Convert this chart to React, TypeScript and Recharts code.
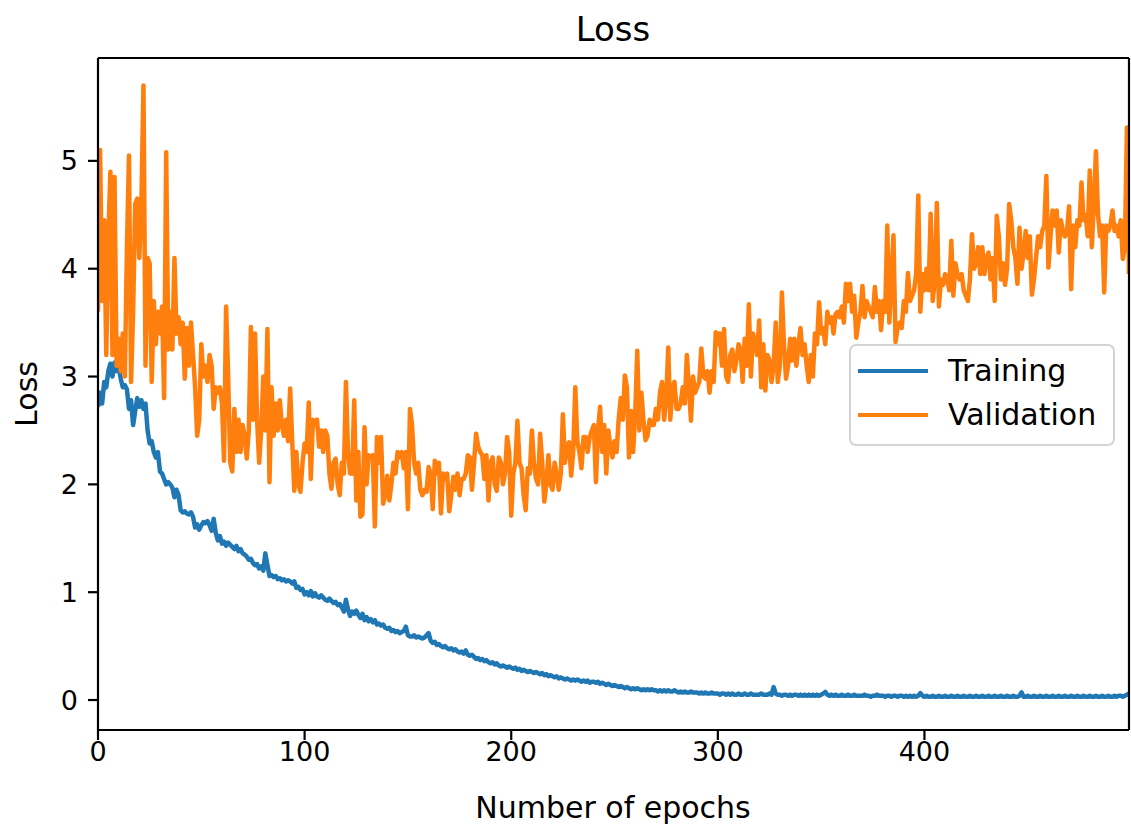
import React from 'react';
import { LineChart, Line, XAxis, YAxis, Legend, ReferenceLine } from 'recharts';

// Training loss per epoch (0..499)
const TRAINING: number[] = [
  2.72, 2.85, 2.75, 2.95, 2.9, 3.05, 3.12, 3.0, 3.13, 3.05,
  3.1, 2.98, 2.9, 2.92, 2.88, 2.7, 2.78, 2.55, 2.68, 2.8,
  2.72, 2.78, 2.7, 2.75, 2.5, 2.38, 2.4, 2.3, 2.25, 2.3,
  2.12, 2.1, 2.05, 2.0, 2.02, 2.0, 1.97, 1.88, 1.95, 1.9,
  1.76, 1.74, 1.75, 1.73, 1.72, 1.74, 1.7, 1.6, 1.63, 1.58,
  1.62, 1.65, 1.64, 1.66, 1.62, 1.57, 1.68, 1.55, 1.48, 1.52,
  1.45, 1.47, 1.43, 1.46, 1.44, 1.42, 1.4, 1.43, 1.38, 1.4,
  1.36, 1.35, 1.33, 1.3, 1.31, 1.27, 1.25, 1.26, 1.22, 1.24,
  1.2, 1.36, 1.25, 1.15, 1.16, 1.14, 1.15, 1.12, 1.13, 1.11,
  1.12, 1.1, 1.11, 1.1, 1.08, 1.1, 1.04, 1.05, 1.02, 1.03,
  0.98, 1.0, 0.97, 1.01, 0.96, 0.99, 0.96, 0.95, 0.97, 0.95,
  0.93, 0.92, 0.94, 0.92, 0.9, 0.91, 0.88, 0.89, 0.86, 0.82,
  0.93, 0.84, 0.78, 0.82, 0.8, 0.83, 0.79, 0.76, 0.8, 0.74,
  0.77, 0.73, 0.75, 0.72, 0.74, 0.7, 0.71, 0.69, 0.7, 0.67,
  0.66, 0.67, 0.64, 0.65, 0.63, 0.64, 0.62, 0.63, 0.64, 0.68,
  0.6, 0.59, 0.59, 0.6, 0.58, 0.59, 0.58, 0.57, 0.58, 0.6,
  0.62, 0.55, 0.53, 0.54, 0.51, 0.52, 0.5, 0.49, 0.5, 0.48,
  0.47, 0.48, 0.46, 0.47, 0.45, 0.44, 0.45, 0.43, 0.46, 0.42,
  0.41, 0.42, 0.4, 0.38, 0.39, 0.37, 0.38, 0.36, 0.37, 0.35,
  0.34, 0.35, 0.33, 0.34, 0.32, 0.31, 0.32, 0.31, 0.3, 0.31,
  0.3, 0.29, 0.3, 0.28, 0.29, 0.27, 0.28, 0.27, 0.26, 0.27,
  0.26, 0.25, 0.26, 0.25, 0.24, 0.25, 0.23, 0.24, 0.22, 0.23,
  0.22, 0.21, 0.22, 0.2, 0.21, 0.2, 0.19, 0.2, 0.19, 0.18,
  0.19, 0.18, 0.19, 0.18, 0.17, 0.18, 0.17, 0.18, 0.16, 0.17,
  0.17, 0.16, 0.17, 0.15, 0.16, 0.15, 0.14, 0.15, 0.14, 0.13,
  0.14, 0.13, 0.12, 0.13, 0.12, 0.11, 0.12, 0.11, 0.1, 0.11,
  0.1, 0.11, 0.1, 0.09, 0.1, 0.09, 0.1, 0.09, 0.1, 0.09,
  0.09, 0.08, 0.09, 0.08, 0.09, 0.08, 0.09, 0.08, 0.08, 0.09,
  0.08, 0.07, 0.08, 0.07, 0.08, 0.07, 0.07, 0.08, 0.07, 0.07,
  0.07, 0.06, 0.07, 0.06, 0.07, 0.06, 0.06, 0.07, 0.06, 0.06,
  0.06, 0.05, 0.06, 0.06, 0.05, 0.06, 0.05, 0.06, 0.05, 0.05,
  0.06, 0.05, 0.05, 0.06, 0.05, 0.05, 0.06, 0.05, 0.05, 0.05,
  0.05, 0.06, 0.05, 0.05, 0.05, 0.06, 0.05, 0.12, 0.06, 0.05,
  0.05, 0.04, 0.05, 0.05, 0.04, 0.05, 0.04, 0.05, 0.05, 0.04,
  0.05, 0.04, 0.05, 0.04, 0.05, 0.04, 0.05, 0.04, 0.05, 0.04,
  0.05, 0.06, 0.075, 0.05, 0.04, 0.05, 0.04, 0.05, 0.04, 0.04,
  0.05, 0.04, 0.04, 0.05, 0.04, 0.04, 0.05, 0.04, 0.04, 0.04,
  0.04, 0.05, 0.04, 0.04, 0.03, 0.04, 0.04, 0.05, 0.04, 0.04,
  0.04, 0.03, 0.04, 0.04, 0.03, 0.04, 0.04, 0.03, 0.04, 0.04,
  0.03, 0.04, 0.03, 0.04, 0.03, 0.04, 0.03, 0.04, 0.065, 0.04,
  0.03, 0.04, 0.03, 0.03, 0.04, 0.03, 0.03, 0.04, 0.03, 0.03,
  0.04, 0.03, 0.03, 0.04, 0.03, 0.03, 0.04, 0.03, 0.03, 0.04,
  0.03, 0.03, 0.04, 0.03, 0.03, 0.04, 0.03, 0.03, 0.04, 0.03,
  0.03, 0.04, 0.03, 0.03, 0.04, 0.03, 0.03, 0.04, 0.03, 0.03,
  0.04, 0.03, 0.03, 0.04, 0.03, 0.03, 0.04, 0.07, 0.03, 0.03,
  0.04, 0.03, 0.03, 0.04, 0.03, 0.03, 0.04, 0.03, 0.03, 0.04,
  0.03, 0.03, 0.04, 0.03, 0.03, 0.04, 0.03, 0.03, 0.04, 0.03,
  0.03, 0.04, 0.03, 0.03, 0.04, 0.03, 0.03, 0.04, 0.03, 0.03,
  0.04, 0.03, 0.03, 0.04, 0.03, 0.03, 0.04, 0.03, 0.03, 0.04,
  0.03, 0.03, 0.04, 0.03, 0.04, 0.04, 0.03, 0.04, 0.05, 0.06,
];

// Validation loss per epoch (0..499)
const VALIDATION: number[] = [
  3.6, 5.1, 3.7, 4.45, 3.2, 4.3, 4.9, 3.2, 4.85, 3.1,
  3.35, 3.05, 3.4, 3.0, 4.2, 5.05, 2.95, 3.6, 4.6, 4.65,
  4.1, 4.6, 5.7, 3.1, 4.1, 4.05, 2.95, 3.7, 3.3, 3.6,
  3.4, 3.65, 2.8, 5.08, 3.25, 3.6, 3.25, 4.1, 3.4, 3.55,
  3.3, 3.5, 2.98, 3.45, 3.1, 3.5, 3.2, 2.9, 2.45, 2.6,
  3.3, 3.0, 3.1, 2.95, 3.2, 3.1, 2.7, 2.9, 2.85, 2.9,
  2.75, 2.22, 3.65, 3.0, 2.2, 2.12, 2.7, 2.3, 2.6, 2.3,
  2.55, 2.45, 2.24, 2.5, 3.46, 2.6, 3.4, 2.6, 2.2, 2.5,
  3.0, 2.5, 3.44, 2.02, 2.9, 2.45, 2.75, 2.5, 2.78, 2.55,
  2.45, 2.6, 2.4, 2.89, 2.4, 1.94, 2.3, 2.0, 1.93, 2.2,
  2.38, 2.3, 2.76, 2.05, 2.6, 2.55, 2.6, 2.35, 2.5, 2.3,
  2.5, 2.45, 2.1, 1.96, 2.2, 2.24, 2.0, 1.9, 2.2, 2.1,
  2.95, 2.3, 2.1, 2.1, 2.78, 1.85, 2.3, 1.7, 1.72, 2.53,
  2.0, 2.27, 2.25, 2.27, 1.61, 2.44, 2.2, 2.44, 1.82, 1.9,
  2.08, 1.85, 2.0, 2.2, 2.1, 2.3, 2.25, 2.3, 2.15, 2.3,
  1.77, 2.7, 2.55, 2.2, 2.1, 2.2, 1.95, 1.9, 1.95, 1.93,
  2.16, 2.1, 1.77, 2.22, 2.1, 2.2, 1.73, 2.1, 2.05, 2.1,
  1.75, 1.9, 2.07, 1.95, 2.1, 1.9, 2.05, 2.05, 2.1, 2.27,
  2.25, 1.95, 2.2, 2.47, 2.35, 2.3, 2.27, 2.05, 2.27, 1.85,
  2.2, 2.25, 2.0, 1.94, 2.25, 2.2, 2.0, 2.1, 2.44, 2.3,
  1.71, 2.1, 2.2, 2.59, 2.2, 2.15, 1.9, 1.76, 2.15, 2.1,
  2.5, 2.2, 2.05, 2.0, 2.47, 2.2, 1.84, 2.0, 2.27, 2.0,
  1.95, 2.2, 2.1, 1.95, 2.1, 2.65, 2.2, 2.35, 2.39, 2.08,
  2.3, 2.9, 2.4, 2.3, 2.15, 2.44, 2.44, 2.3, 2.44, 2.5,
  2.55, 2.02, 2.5, 2.72, 2.3, 2.55, 2.1, 2.5, 2.35, 2.25,
  2.4, 2.3, 2.6, 2.8, 2.6, 3.01, 2.9, 2.25, 2.68, 2.3,
  2.65, 3.24, 2.5, 2.85, 2.6, 2.41, 2.45, 2.6, 2.55, 2.55,
  2.7, 2.6, 2.85, 2.95, 2.6, 2.8, 3.27, 2.6, 2.9, 2.95,
  2.7, 2.7, 2.75, 2.9, 2.75, 3.2, 2.9, 2.59, 3.0, 2.85,
  2.9, 2.95, 3.26, 3.0, 2.98, 3.05, 2.85, 3.05, 2.95, 3.41,
  3.3, 3.4, 3.1, 3.44, 3.0, 2.95, 3.2, 3.25, 3.05, 3.15,
  3.3, 3.25, 2.95, 3.35, 3.1, 3.67, 3.0, 3.4, 3.3, 3.2,
  3.52, 2.9, 3.3, 2.87, 3.2, 3.15, 2.95, 3.1, 3.5, 2.95,
  3.1, 3.78, 3.3, 2.98, 3.1, 3.35, 3.15, 3.35, 3.1, 3.3,
  3.45, 3.2, 3.3, 3.1, 2.95, 3.2, 3.0, 3.4, 3.3, 3.69,
  3.4, 3.45, 3.3, 3.6, 3.5, 3.55, 3.4, 3.58, 3.6, 3.55,
  3.65, 3.5, 3.86, 3.7, 3.86, 3.6, 3.75, 3.36, 3.5, 3.6,
  3.84, 3.55, 3.7, 3.65, 3.6, 3.55, 3.83, 3.6, 3.7, 3.43,
  3.7, 3.6, 4.4, 3.5, 3.9, 4.31, 3.32, 3.45, 3.5, 3.45,
  3.7, 3.6, 3.96, 3.7, 3.75, 3.8, 3.95, 4.68, 3.6, 3.95,
  3.8, 4.0, 3.8, 4.51, 3.7, 3.9, 4.61, 3.65, 3.9, 3.85,
  3.95, 3.9, 3.8, 4.26, 3.75, 4.05, 3.95, 3.9, 3.95, 3.8,
  3.75, 3.7, 3.9, 4.32, 4.0, 4.05, 4.2, 3.95, 4.2, 3.95,
  4.1, 4.15, 3.9, 4.1, 3.7, 4.49, 4.3, 3.9, 4.05, 3.85,
  4.0, 4.6, 4.45, 4.2, 4.1, 3.86, 4.38, 4.0, 4.15, 4.35,
  4.1, 4.3, 3.76, 3.9, 4.1, 4.3, 4.2, 4.35, 4.4, 4.86,
  4.01, 4.3, 4.54, 4.4, 4.54, 4.15, 4.45, 4.35, 4.3, 4.35,
  4.58, 3.81, 4.4, 4.2, 4.45, 4.4, 4.8, 4.45, 4.5, 4.3,
  4.91, 4.2, 4.6, 5.09, 4.5, 4.3, 4.4, 3.78, 4.4, 4.35,
  4.4, 4.54, 4.35, 4.4, 4.3, 4.45, 4.09, 4.2, 5.31, 3.95,
];

const EPOCHS: number[] = TRAINING.map((_, i) => i);
const X_TICKS = [0, 100, 200, 300, 400];
const Y_TICKS = [0, 1, 2, 3, 4, 5];
const X_DOMAIN: [number, number] = [0, 499];
const Y_DOMAIN: [number, number] = [-0.278, 5.954];

const TITLE = 'Loss';
const X_LABEL = 'Number of epochs';
const Y_LABEL = 'Loss';

const SERIES = [
  { key: 'training', name: 'Training', color: '#1f77b4' },
  { key: 'validation', name: 'Validation', color: '#ff7f0e' },
];

const data = EPOCHS.map((e, i) => ({
  epoch: e,
  training: TRAINING[i],
  validation: VALIDATION[i],
}));

const FONT = "'DejaVu Sans', 'Liberation Sans', sans-serif";
const AXIS_COLOR = '#000000';

const renderLegend = (props: any) => {
  const payload = props.payload || [];
  return (
    <div
      style={{
        boxSizing: 'border-box',
        width: 266,
        height: 102,
        border: '2.5px solid #d4d4d4',
        borderRadius: 7,
        background: 'rgba(255,255,255,0.8)',
        paddingTop: 3,
        paddingLeft: 7,
        fontFamily: FONT,
        fontSize: 30,
        color: '#000',
      }}
    >
      {payload.map((entry: any) => (
        <div key={entry.value} style={{ display: 'flex', alignItems: 'center', height: 44 }}>
          <div style={{ width: 70, height: 4.5, background: entry.color, marginRight: 20 }} />
          <span style={{ lineHeight: '34px' }}>{entry.value}</span>
        </div>
      ))}
    </div>
  );
};

export default function App() {
  return (
    <div style={{ position: 'absolute', left: 0, top: 0, width: 1131, height: 833, background: '#fff' }}>
      <LineChart
        width={1131}
        height={833}
        data={data}
        margin={{ top: 58, right: 2, bottom: 0, left: 0 }}
      >
        <XAxis
          dataKey="epoch"
          type="number"
          domain={X_DOMAIN}
          ticks={X_TICKS}
          allowDataOverflow
          height={103}
          tickSize={10}
          tickMargin={2}
          stroke={AXIS_COLOR}
          strokeWidth={2.2}
          tick={{ fontSize: 27, fill: '#000', fontFamily: FONT }}
          label={{
            content: () => (
              <text x={613} y={818} textAnchor="middle" fontSize={30} fontFamily={FONT} fill="#000">
                {X_LABEL}
              </text>
            ),
          }}
        />
        <YAxis
          type="number"
          domain={Y_DOMAIN}
          ticks={Y_TICKS}
          allowDataOverflow
          width={98}
          tickSize={10}
          tickMargin={10}
          stroke={AXIS_COLOR}
          strokeWidth={2.2}
          tick={{ fontSize: 27, fill: '#000', fontFamily: FONT }}
          label={{
            content: () => (
              <text
                x={0}
                y={0}
                transform="translate(37,394) rotate(-90)"
                textAnchor="middle"
                fontSize={30}
                fontFamily={FONT}
                fill="#000"
              >
                {Y_LABEL}
              </text>
            ),
          }}
        />
        {SERIES.map((s) => (
          <Line
            key={s.key}
            type="linear"
            dataKey={s.key}
            name={s.name}
            stroke={s.color}
            strokeWidth={4.5}
            strokeLinejoin="round"
            dot={false}
            activeDot={false}
            isAnimationActive={false}
          />
        ))}
        <ReferenceLine
          y={Y_DOMAIN[1]}
          stroke={AXIS_COLOR}
          strokeWidth={2.2}
          ifOverflow="visible"
          label={{
            content: () => (
              <text x={613} y={41} textAnchor="middle" fontSize={34} fontFamily={FONT} fill="#000">
                {TITLE}
              </text>
            ),
          }}
        />
        <ReferenceLine x={X_DOMAIN[1]} stroke={AXIS_COLOR} strokeWidth={2.2} ifOverflow="visible" />
        <Legend
          layout="horizontal"
          verticalAlign="middle"
          align="center"
          content={renderLegend}
          wrapperStyle={{ position: 'absolute', left: 849, top: 344, width: 266, height: 102 }}
        />
      </LineChart>
    </div>
  );
}
